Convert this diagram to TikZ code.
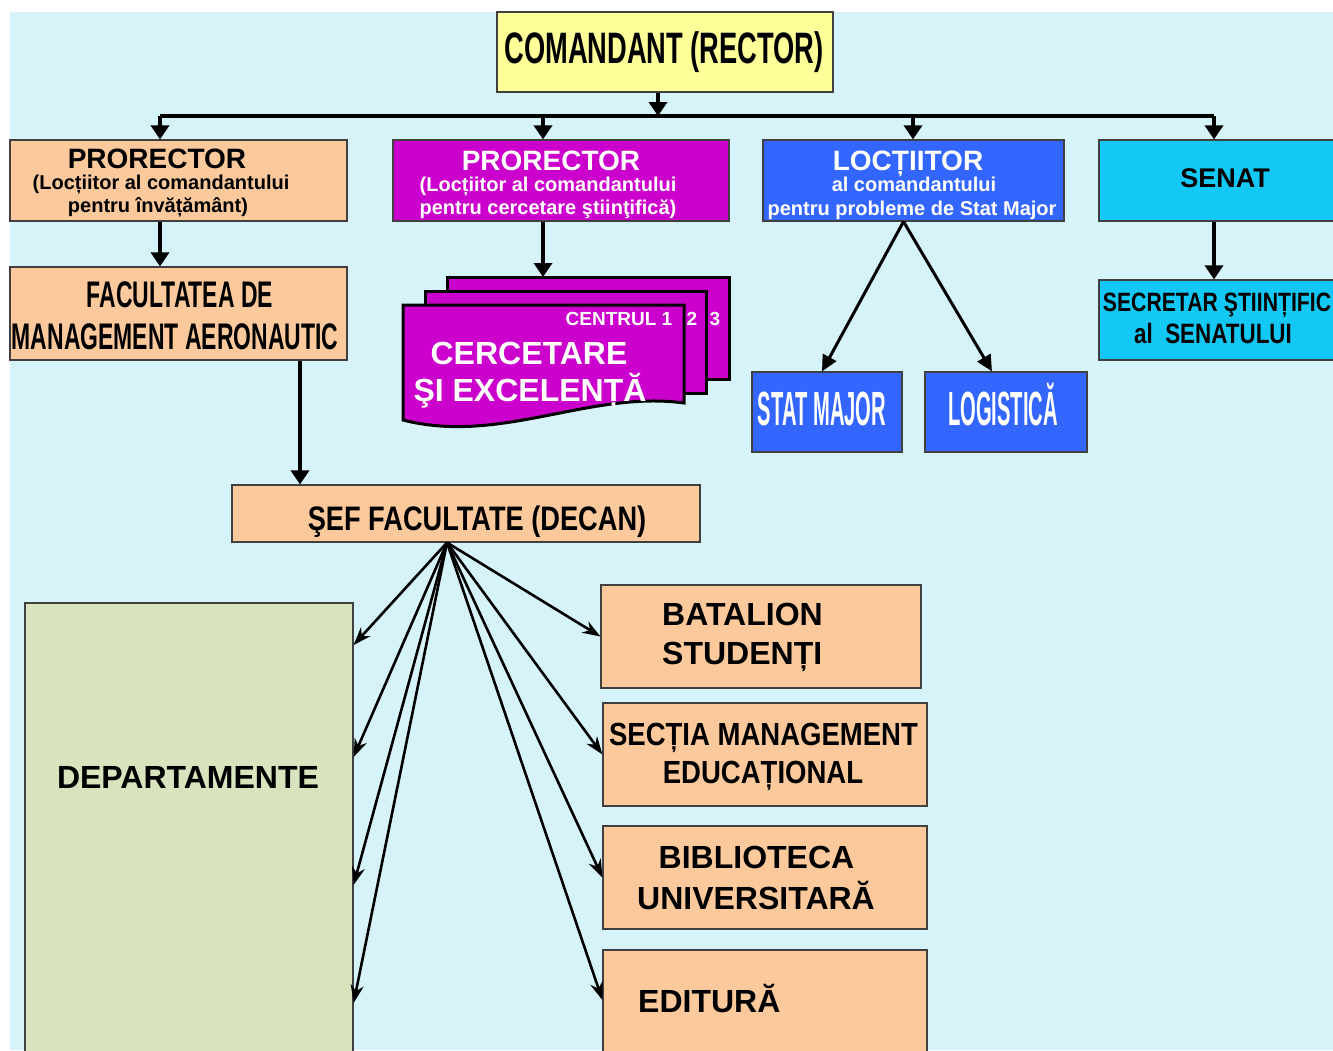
\documentclass[tikz,border=0pt]{standalone}
\usepackage{fontspec}
\setmainfont{Liberation Sans}
\newfontfamily\narrowA[FakeStretch=0.42]{Liberation Sans}
\newfontfamily\narrowB[FakeStretch=0.62]{Liberation Sans}
\newfontfamily\narrowC[FakeStretch=0.80]{Liberation Sans}
\newfontfamily\narrowD[FakeStretch=0.86]{Liberation Sans}
\usepackage{tikz}
\usetikzlibrary{arrows.meta}
\definecolor{bgcyan}{RGB}{215,243,250}
\definecolor{yellowbox}{RGB}{255,255,153}
\definecolor{orangebox}{RGB}{251,201,155}
\definecolor{magbox}{RGB}{204,0,204}
\definecolor{bluebox}{RGB}{51,102,255}
\definecolor{cyanbox}{RGB}{20,200,245}
\definecolor{greenbox}{RGB}{215,228,189}
\tikzstyle{box} = [draw=black!75, line width=1.2pt, inner sep=0pt]
\tikzstyle{sheet} = [draw=black, line width=3pt, fill=magbox, line join=miter]
\tikzstyle{txt} = [anchor=base, inner sep=0pt, font=\bfseries]
\tikzstyle{arrow} = [line width=3.5pt, -{Triangle[length=14pt,width=18pt]}]
\tikzstyle{arrowthin} = [line width=3pt, -{Triangle[length=16pt,width=15pt]}]
\tikzstyle{fan} = [line width=2.6pt, -{Stealth[length=18pt,width=13pt]}]

\begin{document}
\begin{tikzpicture}[x=1pt, y=-1pt]
    % fundal
    \useasboundingbox (0,0) rectangle (1333,1050);
    \fill[white] (0,0) rectangle (1333,1050);
    \fill[bgcyan] (10,12) rectangle (1333,1050);

    % Comandant
    \node[box, fill=yellowbox, minimum width=336pt, minimum height=80pt] (cmd) at (665,52) {};
    \node[txt, font=\narrowB\bfseries\fontsize{44}{44}\selectfont] (cmdt) at (664,63) {COMANDANT (RECTOR)};

    % Nivelul 2
    \node[box, fill=orangebox, minimum width=337pt, minimum height=81pt] (pr1) at (178.5,180.5) {};
    \node[txt, font=\bfseries\fontsize{28}{28}\selectfont] (pr1a) at (157,168) {PRORECTOR};
    \node[txt, font=\bfseries\fontsize{20}{20}\selectfont] (pr1b) at (161,189) {(Locțiitor al comandantului};
    \node[txt, font=\bfseries\fontsize{20}{20}\selectfont] (pr1c) at (158,212) {pentru învățământ)};

    \node[box, fill=magbox, minimum width=336pt, minimum height=81pt] (pr2) at (561,180.5) {};
    \node[txt, white, font=\bfseries\fontsize{28}{28}\selectfont] (pr2a) at (551,170) {PRORECTOR};
    \node[txt, white, font=\bfseries\fontsize{20}{20}\selectfont] (pr2b) at (548,191) {(Locțiitor al comandantului};
    \node[txt, white, font=\bfseries\fontsize{20}{20}\selectfont] (pr2c) at (548,214) {pentru cercetare ştiinţifică)};

    \node[box, fill=bluebox, minimum width=301pt, minimum height=81pt] (loc) at (913.5,180.5) {};
    \node[txt, white, font=\bfseries\fontsize{28}{28}\selectfont] (loca) at (908,170) {LOCȚIITOR};
    \node[txt, white, font=\bfseries\fontsize{20}{20}\selectfont] (locb) at (914,191) {al comandantului};
    \node[txt, white, font=\bfseries\fontsize{20}{20}\selectfont] (locc) at (912,215) {pentru probleme de Stat Major};

    \node[box, fill=cyanbox, minimum width=252pt, minimum height=81pt] (senat) at (1225,180.5) {};
    \node[txt, font=\bfseries\fontsize{27}{27}\selectfont] (senatt) at (1225,187) {SENAT};

    % Nivelul 3
    \node[box, fill=orangebox, minimum width=337pt, minimum height=93pt] (fac) at (178.5,313.5) {};
    \node[txt, font=\narrowB\bfseries\fontsize{37}{37}\selectfont] (faca) at (180,307) {FACULTATEA DE};
    \node[txt, font=\narrowB\bfseries\fontsize{37}{37}\selectfont] (facb) at (175,349) {MANAGEMENT AERONAUTIC};

    \node[box, fill=bluebox, minimum width=150pt, minimum height=80pt] (stat) at (827,412) {};
    \node[txt, white, font=\narrowA\bfseries\fontsize{48}{48}\selectfont] (statt) at (822,425) {STAT MAJOR};
    \node[box, fill=bluebox, minimum width=162pt, minimum height=80pt] (log) at (1006,412) {};
    \node[txt, white, font=\narrowA\bfseries\fontsize{48}{48}\selectfont] (logt) at (1003,425) {LOGISTICĂ};

    \node[box, fill=cyanbox, minimum width=252pt, minimum height=80pt] (secr) at (1225,320) {};
    \node[txt, font=\narrowC\bfseries\fontsize{26.5}{26.5}\selectfont] (secra) at (1217,311) {SECRETAR ŞTIINȚIFIC};
    \node[txt, font=\narrowC\bfseries\fontsize{28}{28}\selectfont] (secrb) at (1213,343) {al\ \ SENATULUI};

    % Centre de cercetare
    \draw[sheet] (447,277) rectangle (729,379);
    \draw[sheet] (425,291) rectangle (706,393);
    \draw[sheet] (403,305) -- (684,305) -- (684,403)
        .. controls (590,390) and (500,445) .. (403,420) -- cycle;
    \coordinate (cerc) at (543,277);
    \node[txt, white, font=\bfseries\fontsize{19}{19}\selectfont] (c1) at (619,325) {CENTRUL 1};
    \node[txt, white, font=\bfseries\fontsize{19}{19}\selectfont] (c2) at (692,325) {2};
    \node[txt, white, font=\bfseries\fontsize{19}{19}\selectfont] (c3) at (715,325) {3};
    \node[txt, white, font=\bfseries\fontsize{32}{32}\selectfont] (ca) at (529,364) {CERCETARE};
    \node[txt, white, font=\bfseries\fontsize{32}{32}\selectfont] (cb) at (530,401) {ŞI EXCELENȚĂ};

    % Facultate
    \node[box, fill=orangebox, minimum width=468pt, minimum height=57pt] (sef) at (466,513.5) {};
    \node[txt, font=\narrowC\bfseries\fontsize{34}{34}\selectfont] (seft) at (477,530) {ŞEF FACULTATE (DECAN)};

    \node[box, fill=greenbox, minimum width=328pt, minimum height=462pt] (dep) at (189,834) {};
    \node[txt, font=\bfseries\fontsize{32}{32}\selectfont] (dept) at (188,788) {DEPARTAMENTE};

    \node[box, fill=orangebox, minimum width=320pt, minimum height=103pt] (bat) at (761,636.5) {};
    \node[txt, anchor=base west, font=\bfseries\fontsize{32}{32}\selectfont] (bata) at (662,625) {BATALION};
    \node[txt, anchor=base west, font=\bfseries\fontsize{32}{32}\selectfont] (batb) at (662,664) {STUDENȚI};

    \node[box, fill=orangebox, minimum width=324pt, minimum height=103pt] (secm) at (765,754.5) {};
    \node[txt, font=\narrowD\bfseries\fontsize{32}{32}\selectfont] (secma) at (763.5,745) {SECȚIA MANAGEMENT};
    \node[txt, font=\narrowD\bfseries\fontsize{32}{32}\selectfont] (secmb) at (763,783) {EDUCAȚIONAL};

    \node[box, fill=orangebox, minimum width=324pt, minimum height=103pt] (bib) at (765,877.5) {};
    \node[txt, font=\bfseries\fontsize{32}{32}\selectfont] (biba) at (756.5,868) {BIBLIOTECA};
    \node[txt, font=\bfseries\fontsize{32}{32}\selectfont] (bibb) at (756,909) {UNIVERSITARĂ};

    \node[box, fill=orangebox, minimum width=324pt, minimum height=115pt] (edi) at (765,1007.5) {};
    \node[txt, anchor=base west, font=\bfseries\fontsize{32}{32}\selectfont] (edit) at (638,1012) {EDITURĂ};

    % Legaturi
    \coordinate (busA) at (160,116);
    \coordinate (busB) at (543,116);
    \coordinate (busC) at (913,116);
    \coordinate (busD) at (1214,116);
    \draw[line width=3.5pt] (busA) -- (busD);
    \draw[arrow] ([xshift=-7pt]cmd.south) -- ([xshift=-7pt]cmd.south |- busA);
    \draw[arrow] (busA) -- (busA |- pr1.north);
    \draw[arrow] (busB) -- (busB |- pr2.north);
    \draw[arrow] (busC) -- (busC |- loc.north);
    \draw[arrow] (busD) -- (busD |- senat.north);

    \draw[arrow] (busA |- pr1.south) -- (busA |- fac.north);
    \draw[arrow] (busB |- pr2.south) -- (cerc);
    \draw[arrow] (busD |- senat.south) -- (busD |- secr.north);
    \draw[arrowthin] ([xshift=-10pt]loc.south) -- ([xshift=-5pt]stat.north);
    \draw[arrowthin] ([xshift=-10pt]loc.south) -- ([xshift=-14pt]log.north);
    \draw[arrow] (fac.south -| 300,0) -- (sef.north -| 300,0);

    \coordinate (fanS) at ([xshift=-19pt]sef.south);
    \foreach \y in {645,757,885,1003}
        \draw[fan] (fanS) -- (dep.east |- 0,\y);
    \draw[fan] (fanS) -- (bat.west);
    \draw[fan] (fanS) -- (secm.west);
    \draw[fan] (fanS) -- (bib.west);
    \draw[fan] (fanS) -- (edi.west |- 0,1000);
\end{tikzpicture}
\end{document}
